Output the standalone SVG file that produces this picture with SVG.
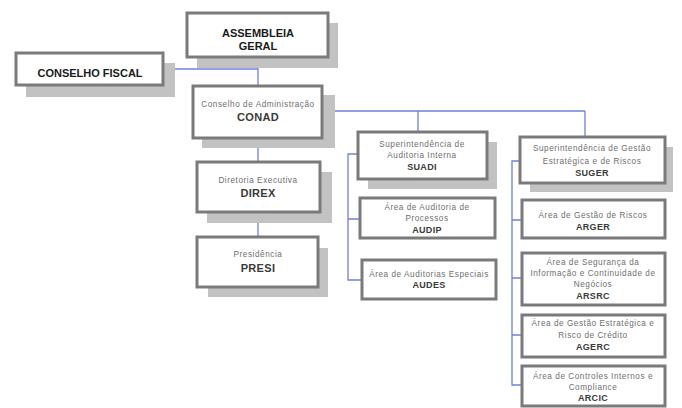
<svg xmlns="http://www.w3.org/2000/svg" width="682" height="408" viewBox="0 0 682 408">
<style>
.sh{fill:#c2c2c2}
.bx{fill:#fff;stroke:#7a7a7a;stroke-width:3}
.t{font-family:"Liberation Sans",Arial,sans-serif;text-anchor:middle}
.big{font-size:11px;font-weight:bold;fill:#1a1a1a}
.d{font-size:8.2px;fill:#6e6e6e;letter-spacing:0.55px}
.c{font-size:11px;font-weight:bold;fill:#3a3a3a;letter-spacing:0.3px}
.cs{font-size:9px;font-weight:bold;fill:#3a3a3a;letter-spacing:0.3px}
.ln{fill:none;stroke:#6f80d8;stroke-width:1.3}
</style>
<rect width="682" height="408" fill="#fff"/>
<g id="connectors">
<path class="ln" d="M163,69 H258"/>
<path class="ln" d="M258,57 V86"/>
<path class="ln" d="M322,111 H585 M418,111 V132 M585,111 V137"/>
<path class="ln" d="M258,138 V162"/>
<path class="ln" d="M258,212 V237"/>
<path class="ln" d="M358,154 H348 V280 H362 M348,219 H360"/>
<path class="ln" d="M520,161 H512 V385 H522 M512,220 H522 M512,278 H522 M512,335 H522"/>
</g>
<g id="assembleia">
<rect class="sh" x="197" y="23" width="141" height="45"/>
<rect class="bx" x="187" y="13" width="141" height="44"/>
<text class="t big" x="258" y="37">ASSEMBLEIA</text>
<text class="t big" x="258" y="50">GERAL</text>
</g>
<g id="conselho-fiscal">
<rect class="sh" x="26" y="63" width="149" height="34"/>
<rect class="bx" x="16" y="53" width="147" height="32"/>
<text class="t big" x="90" y="77">CONSELHO FISCAL</text>
</g>
<g id="conad">
<rect class="sh" x="202" y="95" width="133" height="53"/>
<rect class="bx" x="193" y="86" width="129" height="52"/>
<text class="t d" x="258" y="107">Conselho de Administração</text>
<text class="t c" x="258" y="121">CONAD</text>
</g>
<g id="direx">
<rect class="sh" x="207" y="172" width="125" height="51"/>
<rect class="bx" x="197" y="162" width="123" height="50"/>
<text class="t d" x="258" y="183">Diretoria Executiva</text>
<text class="t c" x="258" y="197">DIREX</text>
</g>
<g id="presi">
<rect class="sh" x="208" y="248" width="120" height="49"/>
<rect class="bx" x="197" y="237" width="121" height="50"/>
<text class="t d" x="258" y="257">Presidência</text>
<text class="t c" x="258" y="272">PRESI</text>
</g>
<g id="suadi">
<rect class="sh" x="368" y="142" width="129" height="47"/>
<rect class="bx" x="358" y="132" width="129" height="47"/>
<text class="t d" x="422" y="147">Superintendência de</text>
<text class="t d" x="422" y="158">Auditoria Interna</text>
<text class="t cs" x="422" y="170">SUADI</text>
</g>
<g id="audip">
<rect class="bx" x="360" y="198" width="135" height="40"/>
<text class="t d" x="427" y="210">Área de Auditoria de</text>
<text class="t d" x="427" y="221">Processos</text>
<text class="t cs" x="427" y="233">AUDIP</text>
</g>
<g id="audes">
<rect class="bx" x="362" y="260" width="134" height="39"/>
<text class="t d" x="429" y="277">Área de Auditorias Especiais</text>
<text class="t cs" x="429" y="288">AUDES</text>
</g>
<g id="suger">
<rect class="sh" x="530" y="147" width="143" height="45"/>
<rect class="bx" x="520" y="137" width="145" height="46"/>
<text class="t d" x="592" y="151">Superintendência de Gestão</text>
<text class="t d" x="592" y="164">Estratégica e de Riscos</text>
<text class="t cs" x="592" y="176">SUGER</text>
</g>
<g id="arger">
<rect class="bx" x="522" y="200" width="143" height="38"/>
<text class="t d" x="593" y="218">Área de Gestão de Riscos</text>
<text class="t cs" x="593" y="230">ARGER</text>
</g>
<g id="arsrc">
<rect class="bx" x="522" y="253" width="143" height="52"/>
<text class="t d" x="593" y="265">Área de Segurança da</text>
<text class="t d" x="593" y="276">Informação e Continuidade de</text>
<text class="t d" x="593" y="287">Negócios</text>
<text class="t cs" x="593" y="299">ARSRC</text>
</g>
<g id="agerc">
<rect class="bx" x="522" y="315" width="143" height="42"/>
<text class="t d" x="593" y="326">Área de Gestão Estratégica e</text>
<text class="t d" x="593" y="338">Risco de Crédito</text>
<text class="t cs" x="593" y="350">AGERC</text>
</g>
<g id="arcic">
<rect class="bx" x="522" y="366" width="143" height="40"/>
<text class="t d" x="593" y="379">Área de Controles Internos e</text>
<text class="t d" x="593" y="390">Compliance</text>
<text class="t cs" x="593" y="401">ARCIC</text>
</g>
</svg>
